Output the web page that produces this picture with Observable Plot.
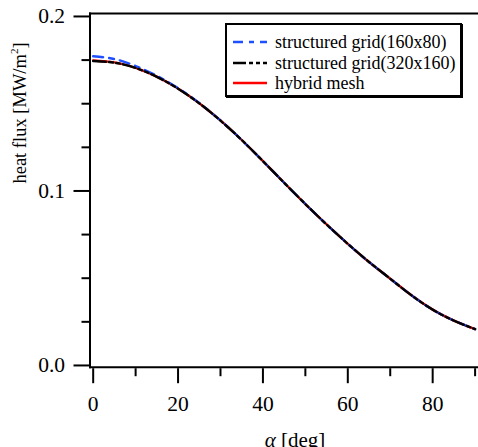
<!DOCTYPE html>
<html><head><meta charset="utf-8">
<script src="https://cdn.jsdelivr.net/npm/d3@7"></script>
<script src="https://cdn.jsdelivr.net/npm/@observablehq/plot@0.6"></script>
<style>
body{margin:0;background:#fff}
#wrap{position:relative;width:478px;height:447px;overflow:hidden;font-family:"Liberation Serif","Times New Roman",Times,"DejaVu Serif",serif}
#wrap svg text{font-family:"Liberation Serif","Times New Roman",Times,"DejaVu Serif",serif}
#legend{position:absolute;left:225px;top:23px;width:237px;height:74px;border:2px solid #000;box-shadow:1px 1px 0 #000;background:#fff;box-sizing:border-box;font-size:18px}
.row{position:absolute;left:0;height:20px;display:flex;align-items:center;white-space:nowrap}
.row svg{margin-left:6px;margin-right:8px}
#ylab{position:absolute;left:20px;top:113px;transform:translate(-50%,-50%) rotate(-90deg);white-space:nowrap;font-size:18.5px;line-height:1}
#ylab sup{font-size:11px;vertical-align:0;position:relative;top:-8px}
#xlab{position:absolute;left:295px;top:430px;transform:translateX(-50%);white-space:nowrap;font-size:21px;line-height:1}
</style></head><body><div id="wrap"></div>
<script>
const alpha   = [0, 5, 10, 15, 20, 25, 30, 35, 40, 45, 50, 55, 60, 65, 70, 75, 80, 85, 90];
const hybrid  = [0.1748, 0.1737, 0.1706, 0.1655, 0.1587, 0.1503, 0.1404, 0.1292, 0.1171, 0.1047, 0.0925, 0.0808, 0.0697, 0.0593, 0.0497, 0.0402, 0.0320, 0.0257, 0.0208];
const grid160 = [0.1772, 0.1756, 0.1716, 0.1660, 0.1589, 0.1504, 0.1404, 0.1292, 0.1171, 0.1047, 0.0925, 0.0808, 0.0697, 0.0593, 0.0497, 0.0402, 0.0320, 0.0257, 0.0208];
const grid320 = [0.1745, 0.1735, 0.1705, 0.1654, 0.1586, 0.1502, 0.1403, 0.1292, 0.1171, 0.1047, 0.0925, 0.0808, 0.0697, 0.0593, 0.0497, 0.0402, 0.0320, 0.0257, 0.0208];
const seriesNames  = ["structured grid(160x80)", "structured grid(320x160)", "hybrid mesh"];
const seriesColors = ["#1e50ff", "#000000", "#ff0000"];
const seriesDash   = ["10,6,5,6", "13,3,4,3,4,3", "none"];
const xMajor = [0, 20, 40, 60, 80];
const xMinor = [10, 30, 50, 70, 90];
const yMajor = [0.0, 0.1, 0.2];
const yMinor = [0.025, 0.05, 0.075, 0.125, 0.15, 0.175];
const yTickLabels = ["0.0", "0.1", "0.2"];
const xLabelHtml = "<i>α</i> [deg]";
const yLabelHtml = "heat flux [MW/m<sup>2</sup>]";

const mk = arr => alpha.map((a, i) => ({a, v: arr[i]}));
const data = [mk(grid160), mk(grid320), mk(hybrid)];
const serif = "'Liberation Serif', 'Times New Roman', Times, 'DejaVu Serif', serif";

const chart = Plot.plot({
  width: 478, height: 447,
  marginLeft: 89.5, marginRight: 0, marginTop: 13, marginBottom: 80.3,
  style: {fontFamily: serif, fontSize: "21px", background: "#fff", color: "#000"},
  x: {domain: [-0.75, 90.8]},
  y: {domain: [-0.001, 0.2017]},
  marks: [
    Plot.line(data[2], {x: "a", y: "v", stroke: seriesColors[2], strokeWidth: 2.4, curve: "natural"}),
    Plot.line(data[0], {x: "a", y: "v", stroke: seriesColors[0], strokeWidth: 2.4, strokeDasharray: seriesDash[0], curve: "natural"}),
    Plot.line(data[1], {x: "a", y: "v", stroke: seriesColors[1], strokeWidth: 2.4, strokeDasharray: seriesDash[1], curve: "natural"}),
    Plot.frame({anchor: "top", strokeWidth: 2}),
    Plot.frame({anchor: "left", strokeWidth: 2}),
    Plot.frame({anchor: "bottom", strokeWidth: 2}),
    Plot.axisY(yMajor, {tickSize: 16, tickPadding: 9, strokeWidth: 2, fontSize: 21.5, fontFamily: serif, label: null, tickFormat: (d, i) => yTickLabels[i]}),
    Plot.axisY(yMinor, {tickSize: 8, strokeWidth: 2, text: null, label: null}),
    Plot.axisX(xMajor, {tickSize: 15, tickPadding: 12, dy: 1.5, strokeWidth: 2, fontSize: 21.5, fontFamily: serif, label: null}),
    Plot.axisX(xMinor, {tickSize: 8, dy: 1.5, strokeWidth: 2, text: null, label: null})
  ]
});
const wrap = document.getElementById("wrap");
wrap.appendChild(chart);

const leg = document.createElement("div");
leg.id = "legend";
const rowTops = [7, 28, 48];
seriesNames.forEach((name, i) => {
  const r = document.createElement("div");
  r.className = "row";
  r.style.top = rowTops[i] + "px";
  r.innerHTML = `<svg width="34" height="6"><line x1="0" y1="3" x2="34" y2="3" stroke="${seriesColors[i]}" stroke-width="2.4" stroke-dasharray="${seriesDash[i]}"/></svg><span>${name}</span>`;
  leg.appendChild(r);
});
wrap.appendChild(leg);

const yl = document.createElement("div"); yl.id = "ylab"; yl.innerHTML = yLabelHtml; wrap.appendChild(yl);
const xl = document.createElement("div"); xl.id = "xlab"; xl.innerHTML = xLabelHtml; wrap.appendChild(xl);
</script>
</body></html>
